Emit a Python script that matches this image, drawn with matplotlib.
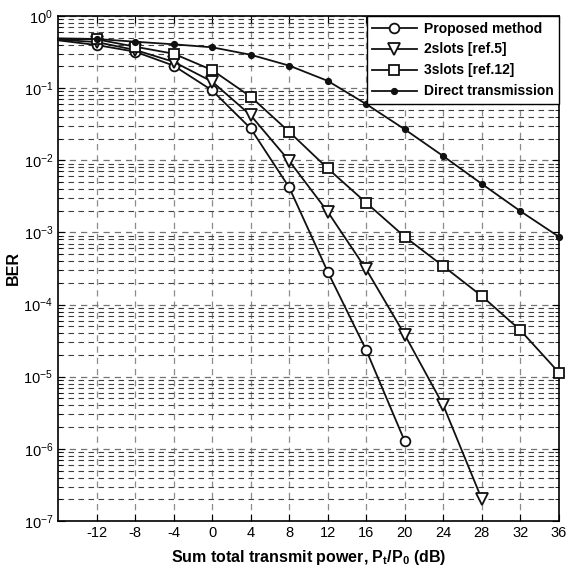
import matplotlib
matplotlib.use('Agg')
import matplotlib.pyplot as plt
from matplotlib.ticker import FixedLocator, NullFormatter
import numpy as np

plt.rcParams['font.family'] = ['Liberation Sans', 'DejaVu Sans']
plt.rcParams['mathtext.fontset'] = 'custom'
plt.rcParams['mathtext.rm'] = 'Liberation Sans'
plt.rcParams['mathtext.bf'] = 'Liberation Sans:bold'
plt.rcParams['axes.unicode_minus'] = False

# Data (BER vs. total transmit power in dB)
# the first point (-16 dB) sits on the left edge and has no marker
snr_proposed = [-16, -12, -8, -4, 0, 4, 8, 12, 16, 20]
ber_proposed = [0.46, 0.396, 0.32, 0.205, 0.093, 0.0276, 0.0042, 2.84e-4, 2.33e-5, 1.27e-6]

snr_2slots = [-16, -12, -8, -4, 0, 4, 8, 12, 16, 20, 24, 28]
ber_2slots = [0.47, 0.435, 0.338, 0.232, 0.123, 0.042, 0.0098, 1.93e-3, 3.07e-4, 3.8e-5, 4.0e-6, 2.0e-7]

snr_3slots = [-16, -12, -8, -4, 0, 4, 8, 12, 16, 20, 24, 28, 32, 36]
ber_3slots = [0.48, 0.475, 0.375, 0.30, 0.178, 0.076, 0.0248, 0.0077, 2.57e-3, 8.7e-4, 3.4e-4, 1.31e-4, 4.4e-5, 1.14e-5]

snr_direct = [-16, -12, -8, -4, 0, 4, 8, 12, 16, 20, 24, 28, 32, 36]
ber_direct = [0.49, 0.48, 0.44, 0.405, 0.368, 0.29, 0.205, 0.126, 0.060, 0.0268, 0.0114, 0.0047, 0.00197, 8.7e-4]

xticks = [-12, -8, -4, 0, 4, 8, 12, 16, 20, 24, 28, 32, 36]
yticks = [1e-7, 1e-6, 1e-5, 1e-4, 1e-3, 1e-2, 1e-1, 1e0]

fig = plt.figure(figsize=(5.66, 5.71), dpi=100)
ax = fig.add_axes([0.1025, 0.0876, 0.885, 0.8844])

lw = 1.3
common = dict(color='#111111', lw=lw, mec='#111111', clip_on=False, zorder=3)
ax.plot(snr_proposed, ber_proposed, marker='o', ms=7, mfc='white', mew=1.3,
        markevery=slice(1, None), label='Proposed method', **common)
ax.plot(snr_2slots, ber_2slots, marker='v', ms=8, mfc='white', mew=1.3,
        markevery=slice(1, None), label='2slots [ref.5]', **common)
ax.plot(snr_3slots, ber_3slots, marker='s', ms=7.5, mfc='white', mew=1.3,
        markevery=slice(1, None), label='3slots [ref.12]', **common)
ax.plot(snr_direct, ber_direct, marker='o', ms=4.2, mfc='#111111',
        markevery=slice(1, None), label='Direct transmission', **common)

ax.set_yscale('log')
ax.set_xlim(-16, 36)
ax.set_ylim(1e-7, 1)
ax.set_xticks(xticks)
ax.set_yticks(yticks)
minor = [m * d for d in yticks[:-1] for m in range(2, 10)]
ax.yaxis.set_minor_locator(FixedLocator(minor))
ax.yaxis.set_minor_formatter(NullFormatter())

dash = (0, (5, 4))
ax.grid(True, which='major', axis='x', ls=dash, color='0.55', lw=0.9)
ax.grid(True, which='major', axis='y', ls=dash, color='0.45', lw=0.9)
ax.grid(True, which='minor', axis='y', ls=dash, color='0.25', lw=0.8)

ax.tick_params(which='both', direction='in', top=True, right=True, labelsize=10.5)
ax.tick_params(which='major', length=5)
ax.tick_params(which='minor', length=3)
for s in ax.spines.values():
    s.set_linewidth(1.2)

ax.set_xlabel('Sum total transmit power, $\\mathbf{P_t/P_0}$ (dB)', fontsize=11.5,
              fontweight='bold', labelpad=6)
ax.set_ylabel('BER', fontsize=11.5, fontweight='bold', labelpad=2)

leg = ax.legend(loc='upper right', borderaxespad=0, fancybox=False, framealpha=1,
                edgecolor='black', handlelength=3.2, prop={'weight': 'bold', 'size': 10},
                borderpad=0.4, labelspacing=0.5, handletextpad=0.5)
leg.get_frame().set_linewidth(1.0)

fig.savefig('out.png', dpi=100)
